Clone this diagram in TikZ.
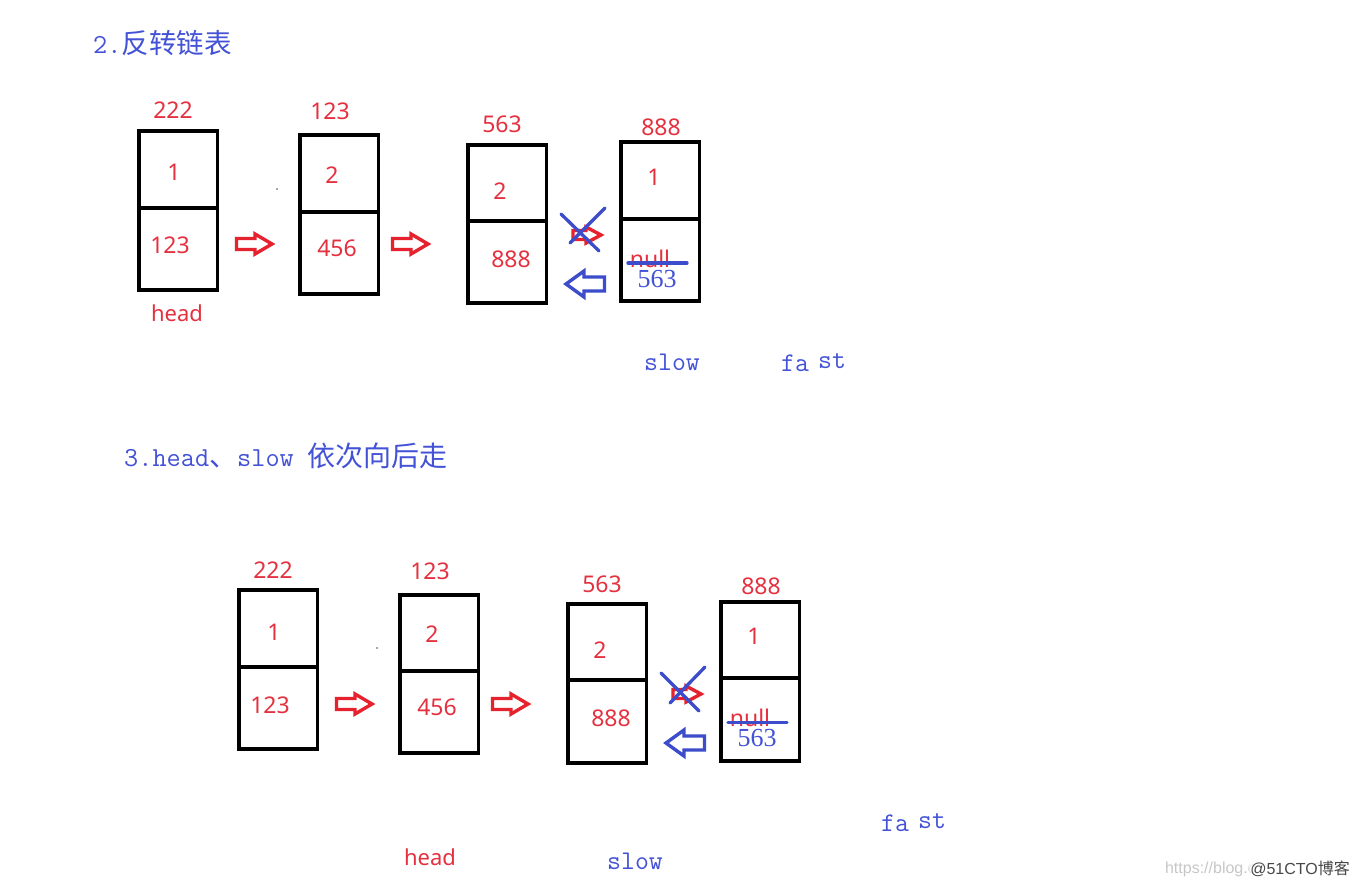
\documentclass[tikz,border=0pt]{standalone}
\usepackage{fontspec}
\setmainfont{Noto Sans}
\newfontfamily\cjk{Noto Sans CJK SC}
\newfontfamily\wmfont{Liberation Sans}
\newfontfamily\serifnum{Liberation Serif}
\definecolor{redlabel}{HTML}{E5303F}
\definecolor{bluelabel}{HTML}{4352D6}
\definecolor{bluestroke}{HTML}{3D4CCB}
\definecolor{redarrow}{HTML}{E5222E}
\tikzset{
  cellbox/.style={draw=black,line width=3.2pt,inner sep=0pt,outer sep=0pt,minimum width=78.5pt,anchor=north west},
  divider/.style={draw=black,line width=3.2pt},
  redtext/.style={text=redlabel,inner sep=0pt,font=\fontsize{23}{26}\selectfont},
  headtext/.style={text=redlabel,inner sep=0pt,font=\fontsize{22}{26}\selectfont},
  bluetext/.style={text=bluelabel,inner sep=0pt,font=\ttfamily\fontsize{27}{30}\selectfont},
  titletext/.style={text=bluelabel,inner sep=0pt,font=\ttfamily\fontsize{27.5}{30}\selectfont,anchor=west},
  bluenum/.style={text=bluelabel,inner sep=0pt,font=\serifnum\fontsize{26}{30}\selectfont},
  redblock/.style={draw=redarrow,line width=3.4pt,line join=miter},
  blueblock/.style={draw=bluestroke,line width=3.4pt,line join=miter},
  crossline/.style={draw=bluestroke,line width=3.3pt,line cap=round},
  speck/.style={circle,fill=black!70,inner sep=0pt,minimum size=1.8pt},
}
% #1 style, #2 tail x, #3 head base x, #4 tip x, #5 y, #6 body half height, #7 head half height
\newcommand{\hollowarrow}[7]{%
  \draw[#1] (#2,#5-#6) -- (#3,#5-#6) -- (#3,#5-#7) -- (#4,#5) -- (#3,#5+#7) -- (#3,#5+#6) -- (#2,#5+#6) -- cycle;
}
\begin{document}
\begin{tikzpicture}[x=1pt,y=-1pt]
\useasboundingbox (0,0) rectangle (1360,888);
\fill[white] (0,0) rectangle (1360,888);
% top diagram
\node[cellbox,minimum height=159pt] (a1) at (139,131) {};
\draw[divider] (a1.west |- 0,208) -- (a1.east |- 0,208);
\node[cellbox,minimum height=159pt] (a2) at (300,135) {};
\draw[divider] (a2.west |- 0,212) -- (a2.east |- 0,212);
\node[cellbox,minimum height=158pt] (a3) at (468,145) {};
\draw[divider] (a3.west |- 0,221) -- (a3.east |- 0,221);
\node[cellbox,minimum height=159pt] (a4) at (621,142) {};
\draw[divider] (a4.west |- 0,219) -- (a4.east |- 0,219);
\hollowarrow{redblock}{236.5}{255}{272}{244}{5.5}{10}
\hollowarrow{redblock}{392.5}{411}{428}{244}{5.5}{10}
\hollowarrow{redblock}{573}{586}{601}{235}{4.5}{8}
\hollowarrow{blueblock}{604.5}{584}{566}{284}{7}{13}
\coordinate (ax1) at (561,214); \coordinate (ax2) at (599,251);
\coordinate (ax3) at (605,208); \coordinate (ax4) at (570,243);
\draw[crossline] (ax1) -- (ax2);
\draw[crossline] (ax3) -- (ax4);
\node[speck] (as) at (277,189) {};
\node[redtext] (at1) at (173,110) {222};
\node[redtext] (at2) at (330,111) {123};
\node[redtext] (at3) at (502,124) {563};
\node[redtext] (at4) at (661,127) {888};
\node[redtext] (av1) at (174,172) {1};
\node[redtext] (av2) at (170,245) {123};
\node[redtext] (av3) at (332,175) {2};
\node[redtext] (av4) at (337,248) {456};
\node[redtext] (av5) at (500,191) {2};
\node[redtext] (av6) at (511,259) {888};
\node[redtext] (av7) at (654,177) {1};
\node[redtext] (an) at (650,259) {null};
\node[bluenum] (a563) at (657,279) {563};
\coordinate (as1) at (628,263); \coordinate (as2) at (687,263);
\draw[crossline] (as1) -- (as2);
\node[headtext] (ah) at (177,313) {head};
\node[bluetext] (aslow) at (672,362) {slow};
\node[bluetext] (afa) at (795,363) {fa};
\node[bluetext] (ast) at (832,361) {st};
\node[titletext] (t2) at (93,43) {2.{\cjk 反转链表}};
% bottom diagram
\node[cellbox,minimum height=159pt] (b1) at (239,590) {};
\draw[divider] (b1.west |- 0,667) -- (b1.east |- 0,667);
\node[cellbox,minimum height=158pt] (b2) at (400,595) {};
\draw[divider] (b2.west |- 0,671) -- (b2.east |- 0,671);
\node[cellbox,minimum height=159pt] (b3) at (568,604) {};
\draw[divider] (b3.west |- 0,680) -- (b3.east |- 0,680);
\node[cellbox,minimum height=159pt] (b4) at (721,602) {};
\draw[divider] (b4.west |- 0,678) -- (b4.east |- 0,678);
\hollowarrow{redblock}{336.5}{355}{372}{704}{5.5}{10}
\hollowarrow{redblock}{492.5}{511}{528}{704}{5.5}{10}
\hollowarrow{redblock}{673}{686}{701}{694}{4.5}{8}
\hollowarrow{blueblock}{704.5}{684}{666}{743}{7}{13}
\coordinate (bx1) at (661,673); \coordinate (bx2) at (699,711);
\coordinate (bx3) at (705,667); \coordinate (bx4) at (670,703);
\draw[crossline] (bx1) -- (bx2);
\draw[crossline] (bx3) -- (bx4);
\node[speck] (bs) at (377,648) {};
\node[redtext] (bt1) at (273,570) {222};
\node[redtext] (bt2) at (430,571) {123};
\node[redtext] (bt3) at (602,584) {563};
\node[redtext] (bt4) at (761,586) {888};
\node[redtext] (bv1) at (274,632) {1};
\node[redtext] (bv2) at (270,705) {123};
\node[redtext] (bv3) at (432,634) {2};
\node[redtext] (bv4) at (437,707) {456};
\node[redtext] (bv5) at (600,650) {2};
\node[redtext] (bv6) at (611,718) {888};
\node[redtext] (bv7) at (754,636) {1};
\node[redtext] (bn) at (750,718) {null};
\node[bluenum] (b563) at (757,738) {563};
\coordinate (bs1) at (728,722.5); \coordinate (bs2) at (787,722.5);
\draw[crossline] (bs1) -- (bs2);
\node[headtext] (bh) at (430,857) {head};
\node[bluetext] (bslow) at (635,861) {slow};
\node[bluetext] (bfa) at (895,823) {fa};
\node[bluetext] (bst) at (932,821) {st};
\node[titletext] (t3) at (124,456) {3.head{\cjk\fontsize{28}{30}\selectfont 、}slow {\cjk\fontsize{28}{30}\selectfont 依次向后走}};
% watermark
\node[anchor=east,inner sep=0pt,text=black!22,font=\wmfont\fontsize{16}{18}\selectfont] (wm1) at (1256,869) {https://blog.c};
\node[anchor=east,inner sep=1pt,fill=white,fill opacity=0.6,text opacity=1,text=black!72,font=\wmfont\fontsize{16}{18}\selectfont] (wm2) at (1351,869) {@51CTO{\cjk 博客}};
\end{tikzpicture}
\end{document}
